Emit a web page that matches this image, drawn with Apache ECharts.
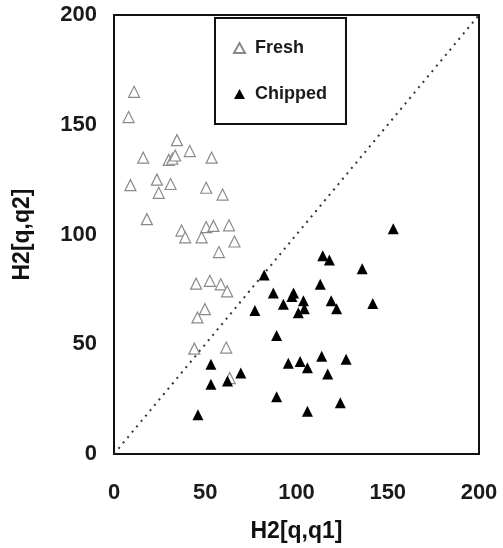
<!DOCTYPE html>
<html>
<head>
<meta charset="utf-8">
<script src="https://cdn.jsdelivr.net/npm/echarts@6/dist/echarts.min.js"></script>
<style>
  html, body { margin: 0; padding: 0; background: #fff; }
  #chart { width: 503px; height: 548px; }
</style>
</head>
<body>
<div id="chart"></div>
<script>
// H2[q,q1] (x) / H2[q,q2] (y) readings
var freshX = [11, 8, 9, 16, 18, 23.5, 24.5, 31, 30, 32, 33.5, 34.5, 41.5, 53.5, 50.5, 59.5,
  37, 39, 48, 50.5, 54.5, 63, 66, 57.5, 45, 52.5, 58.5, 62, 49.8, 45.7, 44, 61.5, 63.4]
var freshY = [165, 153.5, 122.5, 135, 107, 125, 119, 123, 134, 134.5, 136, 143, 138, 135, 121.3, 118.2,
  101.8, 98.7, 98.7, 103.4, 103.9, 104.2, 96.8, 92, 77.6, 78.9, 77.3, 74.1, 66, 62.2, 48, 48.5, 34.6]

var chippedX = [153, 114.4, 118, 136, 82.3, 113, 87.3, 98.4, 97.5, 92.8, 103.8, 119, 141.8, 104.3, 122,
  101, 77.2, 89.1, 53.1, 95.5, 102, 106, 113.8, 127.2, 117.1, 69.5, 62.2, 53.1, 89.1, 124, 106, 46]
var chippedY = [102.6, 90.3, 88.4, 84.4, 81.5, 77.3, 73.3, 73.3, 71.7, 68.2, 69.8, 69.8, 68.6, 66.2, 66.2,
  64.3, 65.4, 54, 40.9, 41.3, 42.1, 39.3, 44.5, 43.2, 36.4, 36.9, 33.3, 31.8, 26.1, 23.4, 19.5, 17.9]

var axisTicks = [0, 50, 100, 150, 200]
var diagonal = [[0, 0], [200, 200]]

function pairs (xs, ys) {
  return xs.map(function (x, i) { return [x, ys[i]] })
}

var chart = echarts.init(document.getElementById('chart'))
var font = 'Liberation Sans, Arial, sans-serif'

chart.setOption({
  animation: false,
  backgroundColor: '#fff',
  grid: {
    left: 114, top: 15, right: 24, bottom: 94,
    show: true, borderColor: '#111', borderWidth: 2
  },
  legend: {
    orient: 'vertical',
    left: 215,
    top: 18,
    padding: [20, 19, 20, 18],
    itemGap: 26,
    itemWidth: 11,
    itemHeight: 10,
    borderColor: '#111',
    borderWidth: 2,
    textStyle: { fontFamily: font, fontSize: 18, fontWeight: 'bold', color: '#1a1a1a', lineHeight: 20, padding: [0, 0, 0, 5] },
    data: ['Fresh', 'Chipped']
  },
  xAxis: {
    type: 'value',
    min: axisTicks[0],
    max: axisTicks[axisTicks.length - 1],
    interval: 50,
    name: 'H2[q,q1]',
    nameLocation: 'middle',
    nameGap: 66,
    nameTextStyle: { fontFamily: font, fontSize: 23, fontWeight: 'bold', color: '#111' },
    axisLine: { show: false },
    axisTick: { show: false },
    splitLine: { show: false },
    axisLabel: { fontFamily: font, fontSize: 22, fontWeight: 'bold', color: '#1a1a1a', margin: 28 }
  },
  yAxis: {
    type: 'value',
    min: axisTicks[0],
    max: axisTicks[axisTicks.length - 1],
    interval: 50,
    name: 'H2[q,q2]',
    nameLocation: 'middle',
    nameGap: 80,
    nameTextStyle: { fontFamily: font, fontSize: 23, fontWeight: 'bold', color: '#111' },
    axisLine: { show: false },
    axisTick: { show: false },
    splitLine: { show: false },
    axisLabel: { fontFamily: font, fontSize: 22, fontWeight: 'bold', color: '#1a1a1a', margin: 17 }
  },
  series: [
    {
      name: 'diagonal',
      type: 'line',
      data: diagonal,
      symbol: 'none',
      silent: true,
      lineStyle: { color: '#333', width: 2, type: [2, 5] },
      z: 1
    },
    {
      name: 'Fresh',
      type: 'scatter',
      symbol: 'triangle',
      symbolSize: 11,
      data: pairs(freshX, freshY),
      itemStyle: { color: '#fff', borderColor: '#8a8a8a', borderWidth: 1.2, opacity: 1 },
      z: 2
    },
    {
      name: 'Chipped',
      type: 'scatter',
      symbol: 'triangle',
      symbolSize: 11,
      data: pairs(chippedX, chippedY),
      itemStyle: { color: '#000', opacity: 1 },
      z: 3
    }
  ]
})
</script>
</body>
</html>
